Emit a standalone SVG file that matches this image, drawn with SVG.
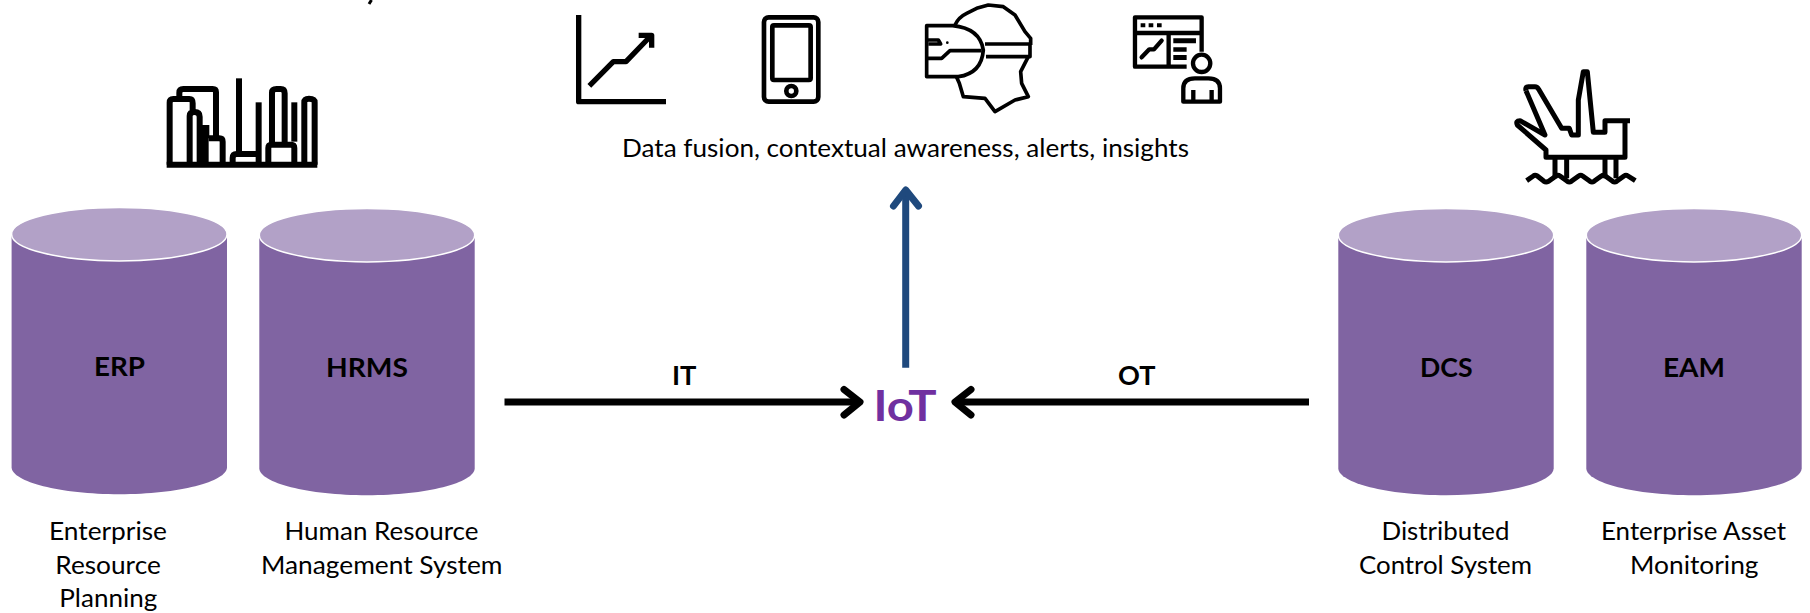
<svg xmlns="http://www.w3.org/2000/svg" width="1810" height="613" viewBox="0 0 1810 613">
<style>
text{font-family:"Lato","Carlito","Liberation Sans",sans-serif;fill:#000}
.t{font-size:25px}
.b{font-size:26.5px;font-weight:700}
.top{fill:#b2a1c7;stroke:#fff;stroke-width:1.5}
.body{fill:#8064a2}
.k{fill:none;stroke:#000;stroke-linejoin:round}
.c{fill:none;stroke-width:7;stroke-linecap:round;stroke-linejoin:round}
</style>
<defs>
<g id="cyl">
<path class="body" d="M-107.7 26.5V259.5C-107.7 274 -59 286.5 0 286.5S107.7 274 107.7 259.5V26.5Z"/>
<ellipse class="top" cx="0" cy="26.5" rx="107.7" ry="26.7"/>
</g>
</defs>
<rect width="1810" height="613" fill="#fff"/>

<g id="connectors">
<g class="c" stroke="#000">
<path d="M504.5 402H858" stroke-linecap="butt"/>
<path d="M844 389.500L860 402L844 415"/>
<path d="M1309 402H956" stroke-linecap="butt"/>
<path d="M971 389.500L955 402L971 415"/>
</g>
<g class="c" stroke="#1f497d">
<path d="M905.700 367.700V190" stroke-linecap="butt"/>
<path d="M893.500 206L905.700 190L918.500 206"/>
</g>
</g>

<g id="node-erp">
<use href="#cyl" x="119.300" y="207.700"/>
<text class="b" x="94" y="375.700" textLength="51" lengthAdjust="spacingAndGlyphs">ERP</text>
<text class="t" x="49" y="539.800" textLength="118" lengthAdjust="spacingAndGlyphs">Enterprise</text>
<text class="t" x="55.300" y="573.800" textLength="105.500" lengthAdjust="spacingAndGlyphs">Resource</text>
<text class="t" x="59.300" y="607.200" textLength="98" lengthAdjust="spacingAndGlyphs">Planning</text>
</g>
<g id="node-hrms">
<use href="#cyl" x="367" y="208.700"/>
<text class="b" x="326" y="376.700" textLength="82" lengthAdjust="spacingAndGlyphs">HRMS</text>
<text class="t" x="284.500" y="539.800" textLength="194" lengthAdjust="spacingAndGlyphs">Human Resource</text>
<text class="t" x="261" y="573.800" textLength="241.500" lengthAdjust="spacingAndGlyphs">Management System</text>
</g>
<g id="node-dcs">
<use href="#cyl" x="1446" y="208.700"/>
<text class="b" x="1420" y="376.700" textLength="52.500" lengthAdjust="spacingAndGlyphs">DCS</text>
<text class="t" x="1381.500" y="539.800" textLength="128" lengthAdjust="spacingAndGlyphs">Distributed</text>
<text class="t" x="1359" y="573.800" textLength="173" lengthAdjust="spacingAndGlyphs">Control System</text>
</g>
<g id="node-eam">
<use href="#cyl" x="1694" y="208.700"/>
<text class="b" x="1663" y="376.700" textLength="62" lengthAdjust="spacingAndGlyphs">EAM</text>
<text class="t" x="1601" y="539.800" textLength="185" lengthAdjust="spacingAndGlyphs">Enterprise Asset</text>
<text class="t" x="1630" y="573.800" textLength="128.500" lengthAdjust="spacingAndGlyphs">Monitoring</text>
</g>

<g id="node-iot">
<text x="873.500" y="420.700" textLength="63" lengthAdjust="spacingAndGlyphs" style="font-size:42px;font-weight:700;fill:#7030a0">IoT</text>
</g>
<g id="label-it"><text class="b" x="672" y="385.300" textLength="24.500" lengthAdjust="spacingAndGlyphs">IT</text></g>
<g id="label-ot"><text class="b" x="1118" y="385.300" textLength="37.500" lengthAdjust="spacingAndGlyphs">OT</text></g>
<g id="label-data"><text class="t" x="622" y="156.700" textLength="567" lengthAdjust="spacingAndGlyphs">Data fusion, contextual awareness, alerts, insights</text></g>

<g id="icon-buildings" transform="translate(140,60) scale(.3333)">
<path d="M172 195H208V235H206V314H172Z" fill="#000"/>
<g class="k" stroke-width="18">
<path d="M80 314H532"/>
<path d="M89 314V128Q89 117 100 117H148Q158 117 158 130V150"/>
<path d="M118 108V98Q118 87 130 87H218Q228 87 228 97V230"/>
<path d="M149 314V168Q149 156 164 156Q179 156 179 170V314"/>
<path d="M206 235H238Q248 235 248 245V314"/>
<path d="M297 55V282"/>
<path d="M278 314V294Q278 282 290 282H356"/>
<path d="M356 127V314"/>
<path d="M396 250V98Q396 87 410 87H422Q434 87 434 100V250"/>
<path d="M385 314V264Q385 254 395 254H453Q463 254 463 264V314"/>
<path d="M463 127V245"/>
<path d="M493 314V127Q493 116 507 116Q524 116 524 127V314"/>
</g>
</g>

<g id="icon-chart" transform="translate(560,0) scale(.3333)">
<g class="k" stroke-width="16">
<path d="M56 45V305H318"/>
<path d="M88 258L160 185H198L272 108"/>
<path d="M236 106H275V143"/>
</g>
</g>

<g id="icon-tablet" transform="translate(560,0) scale(.3333)">
<g class="k" stroke-width="14">
<rect x="612" y="52" width="163" height="253" rx="14"/>
<rect x="637" y="76" width="115" height="164" rx="5"/>
<circle cx="694" cy="273" r="15"/>
</g>
</g>

<g id="icon-vr" transform="translate(900,0) scale(.3333)">
<g class="k" stroke-width="11">
<path d="M165 75Q175 52 200 40L230 25L265 15L310 20L345 45L375 95L392 115V135"/>
<path d="M255 132H390V170H258"/>
<path d="M385 170L362 215L365 250L385 290L345 300L285 335L255 295L190 290L178 250L170 232"/>
<path d="M158 77H80V230H175Q245 220 250 150Q240 85 158 77Z"/>
<path d="M80 175H125L150 152H245"/>
<path d="M82 120H115L122 132H85"/>
</g>
<circle cx="142" cy="128" r="4" fill="#000"/>
</g>

<g id="icon-dashboard" transform="translate(900,0) scale(.3333)">
<g class="k" stroke-width="13">
<path d="M905 155V52H705V200H860"/>
<path d="M705 99H905"/>
<path d="M806 99V200"/>
<path d="M725 172L748 148H762L785 122" stroke-linecap="round"/>
<circle cx="905" cy="190" r="26"/>
<path d="M850 305V265Q850 235 885 235H925Q960 235 960 265V305Z"/>
<path d="M880 270V305M935 270V305"/>
</g>
<path d="M722 70h14v12h-14zM746 70h14v12h-14zM771 70h14v12h-14zM820 115h68v15h-68zM820 142h40v13h-40zM820 165h40v15h-40z" fill="#000"/>
</g>

<g id="icon-rig" transform="translate(1490,70) scale(.3333)">
<g class="k" stroke-width="15">
<path d="M108 62Q105 50 115 50H135Q142 50 146 58L215 175H238L245 195H265V90L280 5H292L310 187H345V152H420"/>
<path d="M405 152V262H168V240L82 165Q76 152 90 152L165 195L108 62"/>
<path d="M195 262V325M230 262V325M345 262V325M378 262V325"/>
<path d="M110 332L130 318Q135 314 142 318L162 334Q168 338 176 334L198 318Q204 314 210 318L232 334Q238 338 244 334L266 318Q272 314 278 318L300 334Q306 338 312 334L334 318Q340 314 346 318L368 334Q374 338 380 334L402 318Q408 314 414 318L436 332"/>
</g>
</g>

<path id="fragment" d="M371.500 0L369 4" stroke="#000" stroke-width="3" fill="none"/>
</svg>
